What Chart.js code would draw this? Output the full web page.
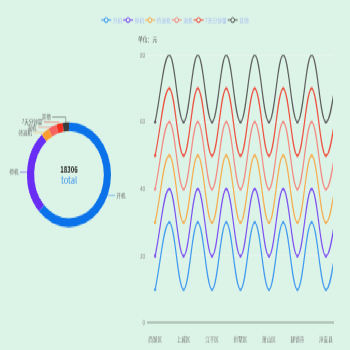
<!DOCTYPE html>
<html>
<head>
<meta charset="utf-8">
<script src="https://cdn.jsdelivr.net/npm/chart.js@4.4.1/dist/chart.umd.min.js"></script>
<style>
  html, body { margin: 0; padding: 0; background: #dcf4e8; }
  #stage { position: absolute; left: 0; top: 0; width: 350px; height: 280px; transform: scaleY(1.25); transform-origin: 0 0; }
  #lineBox { position: absolute; left: 0; top: 0; width: 350px; height: 280px; }
  #pieBox { position: absolute; left: 0; top: 0; width: 140px; height: 280px; }
</style>
</head>
<body>
<div id="stage">
  <div id="lineBox"><canvas id="lineChart"></canvas></div>
  <div id="pieBox"><canvas id="pieChart"></canvas></div>
</div>
<script>
const FONT = "'Noto Sans CJK SC', 'Noto Sans', sans-serif";

// Device status categories (shared by the doughnut and the line series)
const statusNames = ['开机', '停机', '待退机', '退机', '7天分钟量', '其他'];
const statusColors = ['#0b72ea', '#6a2df3', '#fb9d33', '#f7625f', '#f3301f', '#3d3d3d'];
const lineColors = ['#3f98ef', '#7d50f1', '#f6ad50', '#f38a82', '#ee5040', '#5e5e5e'];

// Doughnut: device counts per status
const statusCounts = [11478, 4778, 586, 567, 458, 439];

// Line chart: districts along the x axis
const districts = ['西湖区', '下城区', '上城区', '滨江区', '江干区', '余杭区', '拱墅区',
                   '富阳区', '萧山区', '临安区', '建德市', '桐庐县', '淳安县'];

// Line series values (元)
const kaiji    = [10, 30, 10, 30, 10, 30, 10, 30, 10, 30, 10, 30, 10, 30];
const tingji   = [20, 40, 20, 40, 20, 40, 20, 40, 20, 40, 20, 40, 20, 40];
const daituiji = [30, 50, 30, 50, 30, 50, 30, 50, 30, 50, 30, 50, 30, 50];
const tuiji    = [40, 60, 40, 60, 40, 60, 40, 60, 40, 60, 40, 60, 40, 60];
const qitian   = [50, 70, 50, 70, 50, 70, 50, 70, 50, 70, 50, 70, 50, 70];
const qita     = [60, 80, 60, 80, 60, 80, 60, 80, 60, 80, 60, 80, 60, 80];
const lineSeries = [kaiji, tingji, daituiji, tuiji, qitian, qita];

const yTicks = [0, 20, 40, 60, 80];
const unitLabel = '单位：元';
const centerCaption = 'total';

// ---------- line chart ----------
const legendPlugin = {
  id: 'topLegend',
  afterDraw(chart) {
    const ctx = chart.ctx;
    const size = 4.8, iconW = 10, gap = 1.5, pad = 0.8, cy = 16;
    ctx.save();
    ctx.font = `${size}px ${FONT}`;
    const items = chart.data.datasets.map(ds => ({ ds, w: ctx.measureText(ds.label).width }));
    const total = items.reduce((s, it) => s + iconW + gap + it.w + pad, 0) - pad;
    let x = 175 - total / 2;
    items.forEach(({ ds, w }) => {
      ctx.strokeStyle = ds.borderColor;
      ctx.lineWidth = 1;
      ctx.beginPath(); ctx.moveTo(x, cy); ctx.lineTo(x + iconW, cy); ctx.stroke();
      ctx.beginPath(); ctx.arc(x + iconW / 2, cy, 1.9, 0, Math.PI * 2);
      ctx.fillStyle = '#dcf4e8'; ctx.fill(); ctx.stroke();
      ctx.fillStyle = '#a9c1ee';
      ctx.textAlign = 'left'; ctx.textBaseline = 'middle';
      ctx.fillText(ds.label, x + iconW + gap, cy);
      x += iconW + gap + w + pad;
    });
    // unit caption above the value axis
    ctx.fillStyle = '#555';
    ctx.textAlign = 'left';
    ctx.fillText(unitLabel, 138, 31);
    ctx.restore();
  }
};

new Chart(document.getElementById('lineChart'), {
  type: 'line',
  data: {
    datasets: statusNames.map((name, i) => ({
      label: name,
      data: lineSeries[i].map((v, k) => ({ x: k, y: v })),
      borderColor: lineColors[i],
      backgroundColor: lineColors[i],
      borderWidth: 1.2,
      pointRadius: 1.2,
      pointBorderWidth: 0,
      tension: 0.4,
      fill: false
    }))
  },
  options: {
    responsive: true,
    maintainAspectRatio: false,
    animation: false,
    events: [],
    layout: { padding: { left: 0, right: 17, top: 44, bottom: 0 } },
    plugins: { legend: { display: false }, tooltip: { enabled: false } },
    scales: {
      x: {
        type: 'linear',
        min: -0.5,
        max: districts.length - 0.5,
        afterBuildTicks(scale) {
          scale.ticks = districts.map((d, i) => ({ value: i })).filter(t => t.value % 2 === 0);
        },
        afterFit(scale) { scale.height = 21.6; },
        ticks: {
          callback: v => districts[v],
          font: { size: 4.6, family: FONT },
          color: '#777',
          padding: 2,
          maxRotation: 0,
          autoSkip: false
        },
        grid: { display: false },
        border: { display: true, color: '#b3c4b9', width: 2 }
      },
      y: {
        min: 0,
        max: 80,
        afterBuildTicks(scale) { scale.ticks = yTicks.map(v => ({ value: v })); },
        afterFit(scale) { scale.width = 148; },
        ticks: { font: { size: 4.6, family: FONT }, color: '#888', padding: 3 },
        grid: { color: 'rgba(240,245,248,0.6)', lineWidth: 0.8, drawTicks: false },
        border: { display: false }
      }
    }
  },
  plugins: [legendPlugin]
});

// ---------- doughnut ----------
const pieLabelPlugin = {
  id: 'pieLabels',
  afterDraw(chart) {
    const ctx = chart.ctx;
    const meta = chart.getDatasetMeta(0);
    const ds = chart.data.datasets[0];
    const arcs = meta.data;
    const cx = arcs[0].x, cy = arcs[0].y, R = arcs[0].outerRadius;
    const labelR = R + 7, gapY = 4.1, size = 4.5;

    const items = arcs.map((a, i) => {
      const mid = (a.startAngle + a.endAngle) / 2;
      const dx = Math.cos(mid), dy = Math.sin(mid);
      const ox = cx + dx * R, oy = cy + dy * R;
      return { i, dx, ox, oy, target: oy + dy * 1, side: dx >= 0 ? 1 : -1 };
    });

    // spread labels on each side so they keep a minimum vertical gap
    [1, -1].forEach(side => {
      const list = items.filter(it => it.side === side).sort((a, b) => a.target - b.target);
      const merged = [];
      list.forEach((it, k) => {
        merged.push({ sum: it.target - k * gapY, n: 1 });
        while (merged.length > 1) {
          const last = merged[merged.length - 1], prev = merged[merged.length - 2];
          if (prev.sum / prev.n > last.sum / last.n) {
            prev.sum += last.sum; prev.n += last.n; merged.pop();
          } else break;
        }
      });
      let k = 0;
      merged.forEach(b => {
        for (let j = 0; j < b.n; j++, k++) list[k].y = b.sum / b.n + k * gapY;
      });
    });

    ctx.save();
    ctx.font = `${size}px ${FONT}`;
    ctx.textBaseline = 'middle';
    items.forEach(it => {
      const dyL = it.y - cy;
      const ex = cx + it.side * Math.sqrt(Math.max(labelR * labelR - dyL * dyL, 0));
      const mx = it.ox + it.dx * 2;
      ctx.strokeStyle = statusColors[it.i];
      ctx.globalAlpha = 0.5;
      ctx.lineWidth = 0.8;
      ctx.beginPath();
      ctx.moveTo(it.ox, it.oy);
      ctx.lineTo(mx, it.y);
      ctx.lineTo(ex, it.y);
      ctx.stroke();
      ctx.globalAlpha = 1;
      ctx.fillStyle = '#666';
      ctx.textAlign = it.side > 0 ? 'left' : 'right';
      ctx.fillText(chart.data.labels[it.i], ex + it.side * 1.5, it.y);
    });

    // centre: total count and caption
    const total = ds.data.reduce((s, v) => s + v, 0);
    ctx.textAlign = 'center';
    ctx.fillStyle = '#222';
    ctx.font = `bold 6px ${FONT}`;
    ctx.fillText(String(total), cx, cy - 4.3);
    ctx.fillStyle = '#3a8ee8';
    ctx.font = `7.5px ${FONT}`;
    ctx.fillText(centerCaption, cx, cy + 4.9);
    ctx.restore();
  }
};

new Chart(document.getElementById('pieChart'), {
  type: 'doughnut',
  data: {
    labels: statusNames,
    datasets: [{ data: statusCounts, backgroundColor: statusColors, borderWidth: 0 }]
  },
  options: {
    responsive: true,
    maintainAspectRatio: false,
    animation: false,
    events: [],
    cutout: '83%',
    layout: { padding: { left: 27, right: 29, top: 97.7, bottom: 98.3 } },
    plugins: { legend: { display: false }, tooltip: { enabled: false } }
  },
  plugins: [pieLabelPlugin]
});
</script>
</body>
</html>
